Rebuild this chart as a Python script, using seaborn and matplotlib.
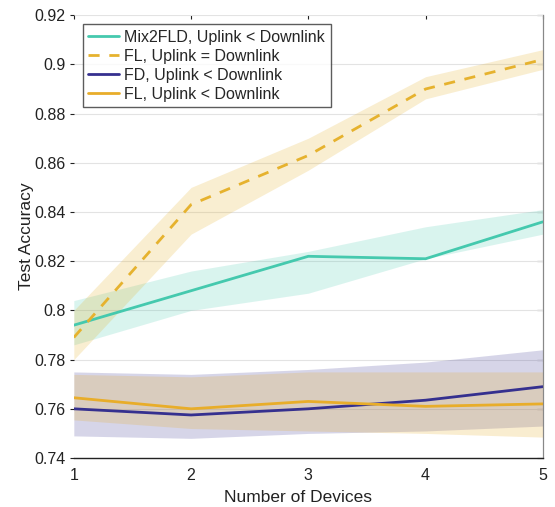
import numpy as np
import pandas as pd
import matplotlib
matplotlib.use("Agg")
import matplotlib.pyplot as plt
import seaborn as sns

devices = [1, 2, 3, 4, 5]

mix2fld = [0.794, 0.808, 0.822, 0.821, 0.836]
mix2fld_lo = [0.786, 0.800, 0.807, 0.821, 0.831]
mix2fld_hi = [0.804, 0.816, 0.824, 0.834, 0.841]

fl_eq = [0.789, 0.843, 0.863, 0.890, 0.902]
fl_eq_lo = [0.780, 0.831, 0.857, 0.886, 0.898]
fl_eq_hi = [0.800, 0.850, 0.870, 0.895, 0.906]

fd = [0.760, 0.7575, 0.760, 0.7635, 0.769]
fd_lo = [0.749, 0.748, 0.750, 0.751, 0.753]
fd_hi = [0.775, 0.774, 0.776, 0.779, 0.784]

fl_lt = [0.7645, 0.760, 0.763, 0.761, 0.762]
fl_lt_lo = [0.7555, 0.752, 0.751, 0.750, 0.7485]
fl_lt_hi = [0.774, 0.773, 0.775, 0.775, 0.775]

labels = ["Mix2FLD, Uplink < Downlink", "FL, Uplink = Downlink",
          "FD, Uplink < Downlink", "FL, Uplink < Downlink"]
colors = ["#45c9ae", "#e6b22e", "#35308f", "#e8ad2a"]

sns.set_style("white")
plt.rcParams['font.family'] = ['Liberation Sans', 'DejaVu Sans']

fig = plt.figure(figsize=(5.55, 5.07), dpi=100)
ax = fig.add_axes([0.133, 0.0966, 0.845, 0.8734])

series = [(mix2fld, mix2fld_lo, mix2fld_hi), (fl_eq, fl_eq_lo, fl_eq_hi),
          (fd, fd_lo, fd_hi), (fl_lt, fl_lt_lo, fl_lt_hi)]
band_alpha = [0.2, 0.22, 0.2, 0.22]
for (y, lo, hi), c, a in zip(series, colors, band_alpha):
    ax.fill_between(devices, lo, hi, color=c, alpha=a, linewidth=0)

rows = []
for lab, (y, lo, hi) in zip(labels, series):
    for d, v in zip(devices, y):
        rows.append({"Devices": d, "Acc": v, "Method": lab})
df = pd.DataFrame(rows)

sns.lineplot(data=df, x="Devices", y="Acc", hue="Method", style="Method",
             palette=dict(zip(labels, colors)),
             dashes={labels[0]: "", labels[1]: (4, 3.5), labels[2]: "", labels[3]: ""},
             linewidth=2, ax=ax, legend=True)

ax.set_xlim(1, 5)
ax.set_ylim(0.74, 0.92)
ax.set_xticks(devices)
ax.set_xticklabels([str(d) for d in devices])
yt = [0.74, 0.76, 0.78, 0.8, 0.82, 0.84, 0.86, 0.88, 0.9, 0.92]
ax.set_yticks(yt)
ax.set_yticklabels(["0.74", "0.76", "0.78", "0.8", "0.82", "0.84", "0.86", "0.88", "0.9", "0.92"])
ax.yaxis.grid(True, color="#e3e3e3", linewidth=0.8)
ax.xaxis.grid(False)
ax.set_axisbelow(True)

for s in ["top", "left"]:
    ax.spines[s].set_visible(False)
ax.spines["bottom"].set_color("#222222")
ax.spines["bottom"].set_linewidth(1.0)
ax.spines["right"].set_color("#888888")
ax.spines["right"].set_linewidth(0.8)
ax.tick_params(axis="both", labelsize=11.5, colors="#222222", length=3, direction="out")
ax.tick_params(axis="x", direction="in", top=True, length=3, pad=7)
ax.tick_params(axis="y", left=True, right=False, length=3, pad=3)

sec = ax.secondary_yaxis("right")
sec.set_yticks(yt)
sec.tick_params(axis="y", direction="in", length=4, labelright=False, colors="#222222")
sec.spines["right"].set_color("#888888")
sec.spines["right"].set_linewidth(0.8)

ax.set_xlabel("Number of Devices", fontsize=12.5, color="#222222")
ax.xaxis.set_label_coords(0.478, -0.072)
ax.set_ylabel("Test Accuracy", fontsize=12.5, color="#222222")
ax.yaxis.set_label_coords(-0.085, 0.5)

leg = ax.legend(loc="upper left", fontsize=11.5, frameon=True, fancybox=False,
                edgecolor="#333333", borderaxespad=0.0, handlelength=1.95,
                handletextpad=0.3, labelspacing=0.25, borderpad=0.35,
                bbox_to_anchor=(0.019, 0.98))
leg.get_frame().set_linewidth(1.0)

fig.savefig("out.png", dpi=100)
